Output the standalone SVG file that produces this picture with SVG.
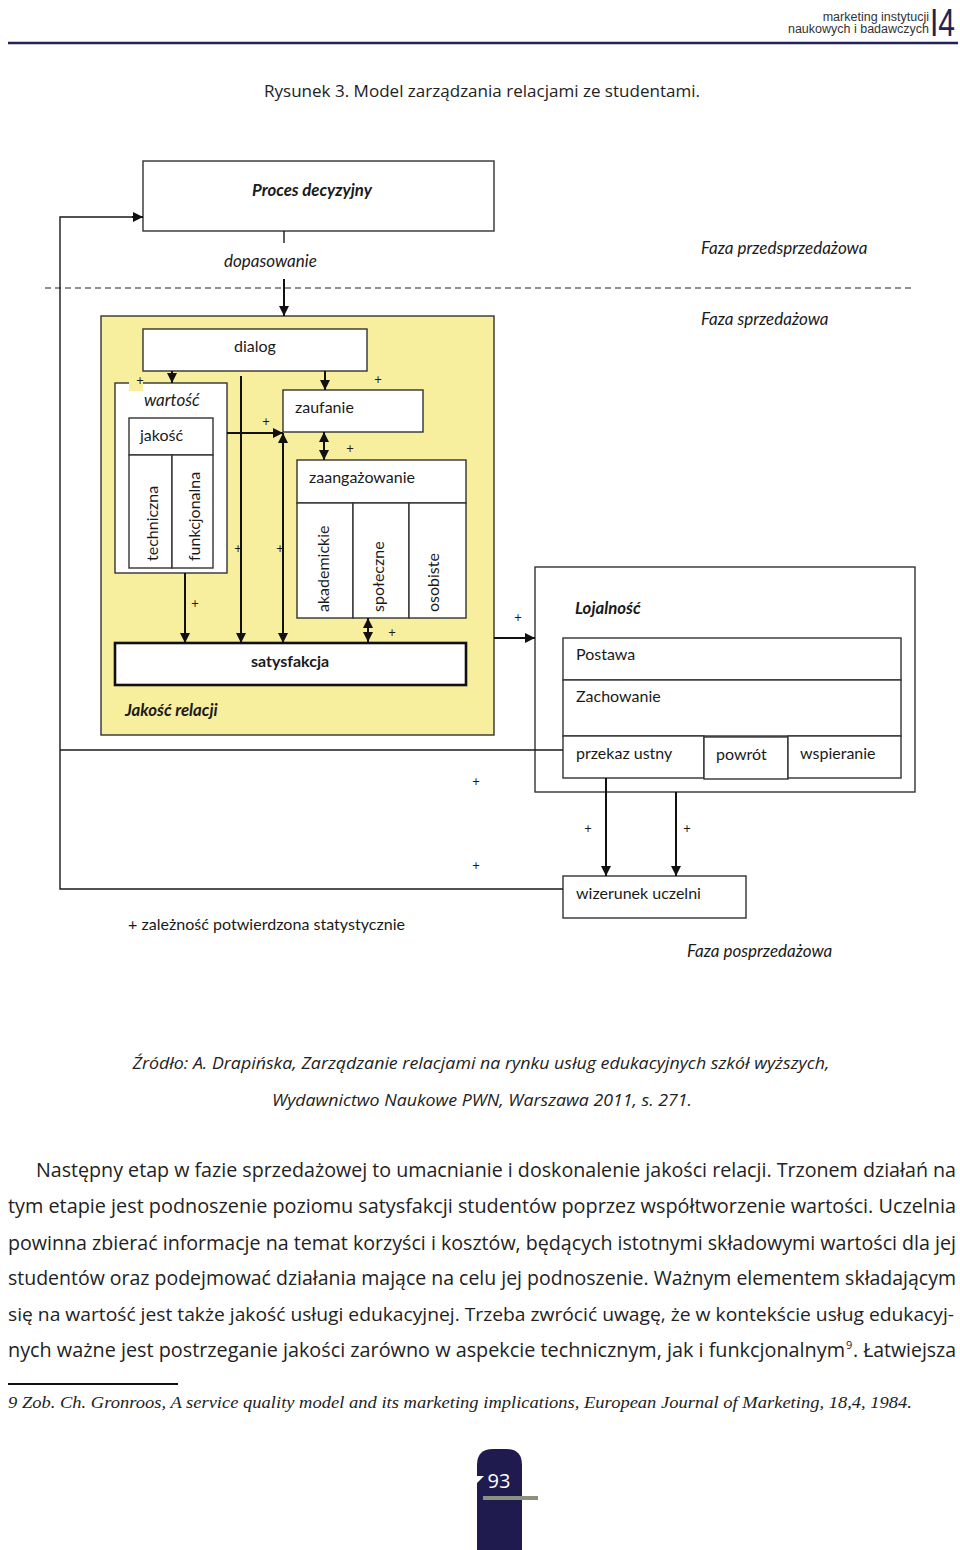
<svg xmlns="http://www.w3.org/2000/svg" width="960" height="1550" viewBox="0 0 960 1550">
<defs>
<marker id="ah" viewBox="0 0 10 10" refX="10" refY="5" markerWidth="10" markerHeight="10" markerUnits="userSpaceOnUse" orient="auto-start-reverse">
<path d="M0,0 L10,5 L0,10 z" fill="#111"/>
</marker>
<style>
.box{fill:#fff;stroke:#333;stroke-width:1.4}
.t{font-family:Lato,"Liberation Sans",sans-serif;font-size:16px;fill:#1a1a1a}
.i{font-style:italic;font-size:17px}
.b{font-weight:bold;font-size:16px}
.bi{font-weight:bold;font-style:italic;font-size:16.8px}
.p{font-family:Lato,"Liberation Sans",sans-serif;font-size:13px;fill:#1a1a1a;text-anchor:middle}
.c{fill:none;stroke:#1a1a1a;stroke-width:1.4}
.a{fill:none;stroke:#111;stroke-width:2}
.body{font-family:"Open Sans","Liberation Sans",sans-serif;font-size:19.5px;fill:#222}
.sup{font-family:"Open Sans","Liberation Sans",sans-serif;font-size:11px;fill:#222}
.src{font-family:"Open Sans","Liberation Sans",sans-serif;font-size:16.5px;font-style:italic;fill:#222}
</style>
</defs>
<rect width="960" height="1550" fill="#fff"/>
<g id="header">
<text x="929" y="21" text-anchor="end" font-family="Liberation Sans,Arial,sans-serif" font-size="12.5" fill="#333">marketing instytucji</text>
<text x="929" y="33" text-anchor="end" font-family="Liberation Sans,Arial,sans-serif" font-size="12.5" fill="#333">naukowych i badawczych</text>
<text x="930" y="36" font-family="Liberation Sans,Arial,sans-serif" font-size="39" textLength="25" lengthAdjust="spacingAndGlyphs" fill="#22244f">I4</text>
<line x1="8" y1="43" x2="958" y2="43" stroke="#23235b" stroke-width="2.5"/>
</g>
<text id="title" x="482" y="97" text-anchor="middle" font-family="'Open Sans','Liberation Sans',sans-serif" font-size="16.5" fill="#222" textLength="436" lengthAdjust="spacingAndGlyphs">Rysunek 3. Model zarządzania relacjami ze studentami.</text>
<g id="phases">
<line x1="45" y1="288" x2="915" y2="288" stroke="#222" stroke-width="1.2" stroke-dasharray="6,4"/>
<text class="t i" x="701" y="254">Faza przedsprzedażowa</text>
<text class="t i" x="701" y="325">Faza sprzedażowa</text>
<text class="t i" x="687" y="957">Faza posprzedażowa</text>
<text class="t i" x="224" y="267">dopasowanie</text>
</g>
<g id="proces">
<rect class="box" x="143" y="161" width="351" height="70"/>
<text class="t bi" x="312" y="196" text-anchor="middle">Proces decyzyjny</text>
</g>
<g id="jakosc-relacji">
<rect x="101" y="316" width="393" height="419" fill="#f7ee9e" stroke="#333" stroke-width="1.4"/>
<text class="t bi" x="125" y="716">Jakość relacji</text>
</g>
<g id="dialog">
<rect class="box" x="143" y="329" width="224" height="42"/>
<text class="t" x="255" y="352" text-anchor="middle">dialog</text>
</g>
<g id="wartosc">
<rect class="box" x="115" y="383" width="112" height="190"/>
<rect x="129" y="377" width="14" height="14" fill="#f7ee9e"/>
<text class="t i" x="144" y="406">wartość</text>
<rect class="box" x="129" y="418" width="84" height="37"/>
<text class="t" x="140" y="441">jakość</text>
<rect class="box" x="129" y="455" width="43" height="113"/>
<rect class="box" x="172" y="455" width="41" height="113"/>
<text class="t" transform="translate(158,561) rotate(-90)">techniczna</text>
<text class="t" transform="translate(200,561) rotate(-90)">funkcjonalna</text>
</g>
<g id="zaufanie">
<rect class="box" x="283" y="390" width="140" height="42"/>
<text class="t" x="295" y="413">zaufanie</text>
</g>
<g id="zaangazowanie">
<rect class="box" x="297" y="460" width="169" height="43"/>
<text class="t" x="309" y="483">zaangażowanie</text>
<rect class="box" x="297" y="503" width="56" height="115"/>
<rect class="box" x="353" y="503" width="56" height="115"/>
<rect class="box" x="409" y="503" width="57" height="115"/>
<text class="t" transform="translate(329,612) rotate(-90)">akademickie</text>
<text class="t" transform="translate(384,612) rotate(-90)">społeczne</text>
<text class="t" transform="translate(439,612) rotate(-90)">osobiste</text>
</g>
<g id="satysfakcja">
<rect x="115" y="643" width="351" height="42" fill="#fff" stroke="#111" stroke-width="2.6"/>
<text class="t b" x="290" y="667" text-anchor="middle">satysfakcja</text>
</g>
<g id="lojalnosc">
<rect class="box" x="535" y="567" width="380" height="225"/>
<text class="t bi" x="575" y="614">Lojalność</text>
<rect class="box" x="563" y="638" width="338" height="42"/>
<text class="t" x="576" y="660">Postawa</text>
<rect class="box" x="563" y="680" width="338" height="56"/>
<text class="t" x="576" y="702">Zachowanie</text>
<rect class="box" x="563" y="736" width="141" height="42"/>
<text class="t" x="576" y="759">przekaz ustny</text>
<rect class="box" x="704" y="737" width="84" height="42"/>
<text class="t" x="716" y="760">powrót</text>
<rect class="box" x="788" y="736" width="113" height="42"/>
<text class="t" x="800" y="759">wspieranie</text>
</g>
<g id="wizerunek">
<rect class="box" x="563" y="876" width="183" height="42"/>
<text class="t" x="576" y="899">wizerunek uczelni</text>
</g>
<g id="connectors">
<polyline class="c" points="563,889 60,889 60,217 133,217" />
<line class="a" x1="132" y1="217" x2="143" y2="217" marker-end="url(#ah)"/>
<line class="c" x1="284" y1="231" x2="284" y2="243"/>
<line class="a" x1="284" y1="279" x2="284" y2="316" marker-end="url(#ah)"/>
<line class="a" x1="172" y1="371" x2="172" y2="383" marker-end="url(#ah)"/>
<line class="a" x1="325" y1="371" x2="325" y2="390" marker-end="url(#ah)"/>
<line class="a" x1="241" y1="376" x2="241" y2="643" marker-end="url(#ah)"/>
<line class="a" x1="227" y1="433" x2="283" y2="433" marker-end="url(#ah)"/>
<line class="a" x1="283" y1="433" x2="283" y2="643" marker-start="url(#ah)" marker-end="url(#ah)"/>
<line class="a" x1="324" y1="432" x2="324" y2="460" marker-start="url(#ah)" marker-end="url(#ah)"/>
<line class="a" x1="185" y1="573" x2="185" y2="643" marker-end="url(#ah)"/>
<line class="a" x1="368" y1="618" x2="368" y2="642" marker-start="url(#ah)" marker-end="url(#ah)"/>
<line class="a" x1="494" y1="638" x2="535" y2="638" marker-end="url(#ah)"/>
<line class="c" x1="60" y1="750" x2="563" y2="750"/>
<line class="a" x1="606" y1="778" x2="606" y2="876" marker-end="url(#ah)"/>
<line class="a" x1="676" y1="792" x2="676" y2="876" marker-end="url(#ah)"/>
</g>
<g id="plus-signs">
<text class="p" x="140" y="385">+</text>
<text class="p" x="378" y="384">+</text>
<text class="p" x="266" y="426">+</text>
<text class="p" x="350" y="453">+</text>
<text class="p" x="238" y="553">+</text>
<text class="p" x="280" y="553">+</text>
<text class="p" x="195" y="608">+</text>
<text class="p" x="392" y="637">+</text>
<text class="p" x="518" y="622">+</text>
<text class="p" x="476" y="786">+</text>
<text class="p" x="588" y="833">+</text>
<text class="p" x="687" y="833">+</text>
<text class="p" x="476" y="870">+</text>
</g>
<text id="legend" class="t" x="128" y="930" textLength="277" lengthAdjust="spacingAndGlyphs">+  zależność potwierdzona statystycznie</text>
<g id="source">
<text class="src" x="481" y="1069" text-anchor="middle" textLength="697" lengthAdjust="spacingAndGlyphs">Źródło: A. Drapińska, Zarządzanie relacjami na rynku usług edukacyjnych szkół wyższych,</text>
<text class="src" x="482" y="1106" text-anchor="middle" textLength="420" lengthAdjust="spacingAndGlyphs">Wydawnictwo Naukowe PWN, Warszawa 2011, s. 271.</text>
</g>
<g id="body">
<text class="body" x="36" y="1177" textLength="920" lengthAdjust="spacingAndGlyphs">Następny etap w fazie sprzedażowej to umacnianie i doskonalenie jakości relacji. Trzonem działań na</text>
<text class="body" x="8" y="1213" textLength="948" lengthAdjust="spacingAndGlyphs">tym etapie jest podnoszenie poziomu satysfakcji studentów poprzez współtworzenie wartości. Uczelnia</text>
<text class="body" x="8" y="1250" textLength="948" lengthAdjust="spacingAndGlyphs">powinna zbierać informacje na temat korzyści i kosztów, będących istotnymi składowymi wartości dla jej</text>
<text class="body" x="8" y="1285" textLength="948" lengthAdjust="spacingAndGlyphs">studentów oraz podejmować działania mające na celu jej podnoszenie. Ważnym elementem składającym</text>
<text class="body" x="8" y="1321" style="font-size:18.6px" textLength="946" lengthAdjust="spacingAndGlyphs">się na wartość jest także jakość usługi edukacyjnej. Trzeba zwrócić uwagę, że w kontekście usług edukacyj-</text>
<text class="body" x="8" y="1357" textLength="837" lengthAdjust="spacingAndGlyphs">nych ważne jest postrzeganie jakości zarówno w aspekcie technicznym, jak i funkcjonalnym</text>
<text class="sup" x="846" y="1349">9</text>
<text class="body" x="853" y="1357" textLength="103" lengthAdjust="spacingAndGlyphs">. Łatwiejsza</text>
</g>
<g id="footnote">
<line x1="8" y1="1384" x2="178" y2="1384" stroke="#111" stroke-width="2.2"/>
<text x="8" y="1408" font-family="'Liberation Serif',serif" font-style="italic" font-size="17" fill="#222" textLength="904" lengthAdjust="spacingAndGlyphs">9 Zob. Ch. Gronroos, A service quality model and its marketing implications, European Journal of Marketing, 18,4, 1984.</text>
</g>
<g id="page-tab">
<path d="M477,1550 V1465 Q477,1449 493,1449 H506 Q522,1449 522,1465 V1550 Z" fill="#1f1b4f"/>
<polygon points="476,1476 484,1476 476,1484" fill="#fff"/>
<text x="499" y="1488" text-anchor="middle" font-family="'Open Sans','Liberation Sans',sans-serif" font-size="20" fill="#fff">93</text>
<rect x="483" y="1496" width="55" height="4" fill="#8b9181"/>
</g>
</svg>
